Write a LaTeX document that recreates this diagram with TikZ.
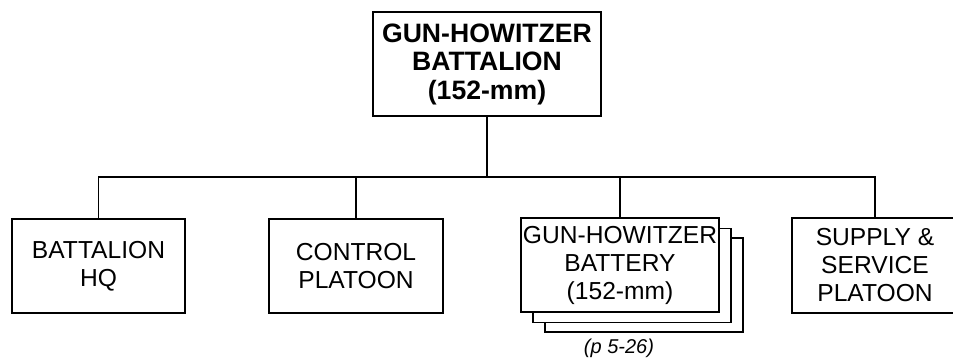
\documentclass[tikz,border=0pt]{standalone}
\usepackage{fontspec}
\setmainfont{Liberation Sans}
\begin{document}
\begin{tikzpicture}[x=1pt,y=1pt,
  box/.style={draw,line width=1.9pt,fill=white,align=center,inner sep=0pt,
    font=\fontsize{24.6}{28}\selectfont},
  topbox/.style={box,font=\fontsize{26.6}{28.5}\selectfont\bfseries},
  link/.style={line width=1.9pt}]
\useasboundingbox (0,0) rectangle (953,-362);
\clip (0,0) rectangle (953,-362);
\node[topbox,minimum width=228,minimum height=104] (top) at (487,-64)
  {GUN-HOWITZER\\BATTALION\\(152-mm)};
\node[box,minimum width=173,minimum height=94] (hq) at (98.5,-266)
  {BATTALION\\HQ};
\node[box,minimum width=174,minimum height=94] (ctrl) at (356,-266)
  {CONTROL\\PLATOON};
\node[box,minimum width=198,minimum height=94] (bat3) at (644,-285) {};
\node[box,minimum width=198,minimum height=94] (bat2) at (632,-275.5) {};
\node[box,minimum width=198,minimum height=94] (bat) at (620,-265)
  {GUN-HOWITZER\\BATTERY\\(152-mm)};
\node[box,minimum width=166,minimum height=95] (sup) at (875,-265.5)
  {SUPPLY \&\\SERVICE\\PLATOON};
\node[font=\fontsize{20}{24}\selectfont\itshape] (ref) at (619,-348) {(p 5-26)};
\coordinate (bus) at (0,-177);
\draw[link] (top.south) -- (top.south |- bus);
\draw[link] (hq.north) -- (hq.north |- bus) -| (sup.north);
\draw[link] (ctrl.north) -- (ctrl.north |- bus);
\draw[link] (bat.north) -- (bat.north |- bus);
\end{tikzpicture}
\end{document}
